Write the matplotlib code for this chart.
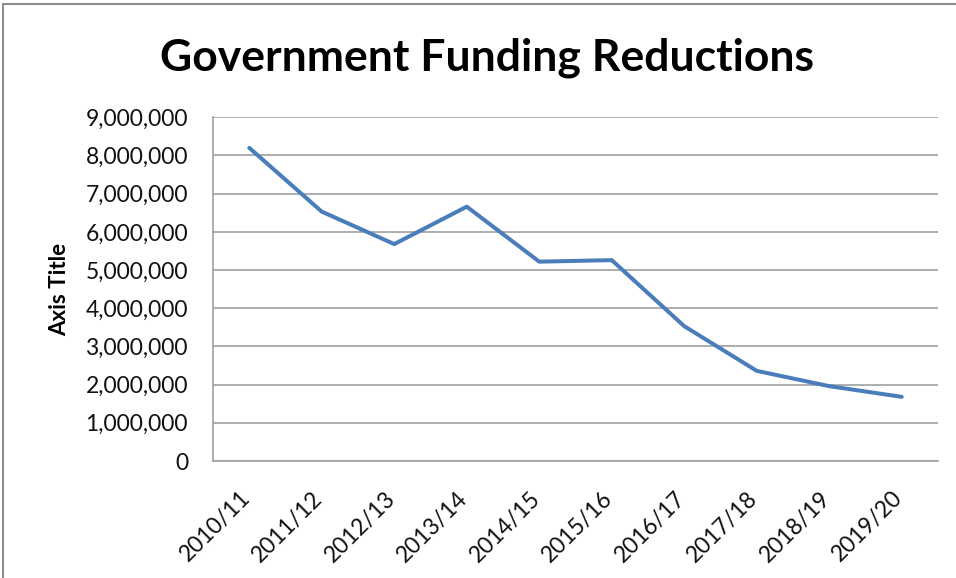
import matplotlib
matplotlib.use("Agg")
import matplotlib.pyplot as plt
import matplotlib.transforms as mtransforms
from matplotlib.patches import Rectangle
from matplotlib.ticker import FuncFormatter
import numpy as np

years = ["2010/11", "2011/12", "2012/13", "2013/14", "2014/15",
         "2015/16", "2016/17", "2017/18", "2018/19", "2019/20"]
funding = [8200000, 6530000, 5680000, 6660000, 5220000,
           5260000, 3530000, 2360000, 1960000, 1680000]
yticks = np.arange(0, 9000001, 1000000)

plt.rcParams['font.family'] = ['Lato', 'DejaVu Sans']

fig = plt.figure(figsize=(9.56, 5.78), dpi=100)
# outer chart frame
fig.patches.append(Rectangle((3 / 956, -0.1), 1.1, 1 - 4 / 578 + 0.1,
                             transform=fig.transFigure, fill=False,
                             edgecolor='#8c8c8c', linewidth=1.5))

ax = fig.add_axes([213 / 956, 1 - 461 / 578, (938 - 213) / 956, (461 - 117.3) / 578])
x = np.arange(len(years))
ax.plot(x, funding, color='#4a7ebb', linewidth=2.9, solid_capstyle='round', zorder=3)

ax.set_xlim(-0.5, len(years) - 0.5)
ax.set_ylim(0, 9000000)
ax.set_yticks(yticks)
ax.yaxis.set_major_formatter(FuncFormatter(lambda v, p: "{:,.0f}".format(v)))
ax.grid(axis='y', color='#a0a0a0', linewidth=1.2)
ax.set_axisbelow(True)

for s in ['top', 'right']:
    ax.spines[s].set_visible(False)
for s in ['left', 'bottom']:
    ax.spines[s].set_color('#a0a0a0')
    ax.spines[s].set_linewidth(1.2)

ax.tick_params(axis='y', length=0, pad=18, labelsize=16.5, labelcolor='#111111')
ax.tick_params(axis='x', length=0, pad=19, labelsize=16.5, labelcolor='#111111')
ax.set_xticks(x)
ax.set_xticklabels(years, rotation=45, ha='right', va='top')
offset = mtransforms.ScaledTranslation(0.05, 0, fig.dpi_scale_trans)
for lab in ax.get_xticklabels():
    lab.set_transform(lab.get_transform() + offset)

fig.text(60 / 956, 1 - 289 / 578, "Axis Title", rotation=90,
         ha='center', va='center', fontsize=16, fontweight='bold')
fig.text(487 / 956, 1 - 58 / 578, "Government Funding Reductions",
         ha='center', va='center', fontsize=32, fontweight='bold')

fig.savefig("out.png", dpi=100)
